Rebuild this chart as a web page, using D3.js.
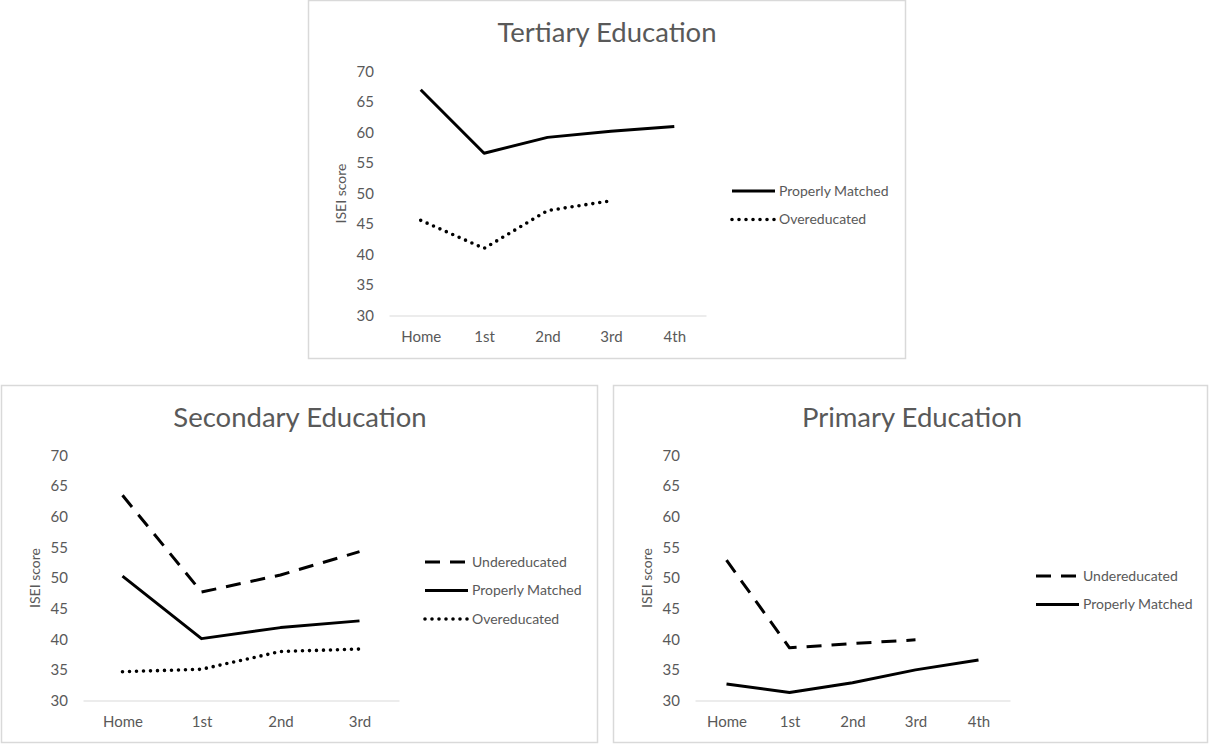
<!DOCTYPE html>
<html>
<head>
<meta charset="utf-8">
<script src="https://cdn.jsdelivr.net/npm/d3@7"></script>
<style>
  body { margin: 0; background: #fff; }
  svg { display: block; font-family: Lato, "Open Sans", sans-serif; }
  .tick text { fill: #595959; font-size: 15px; font-family: Lato, "Open Sans", sans-serif; }
</style>
</head>
<body>
<div id="chart"></div>
<script>
// values
var yTicks = [30, 35, 40, 45, 50, 55, 60, 65, 70];

var tertiaryCats = ["Home", "1st", "2nd", "3rd", "4th"];
var tertiaryProper = [67.0, 56.6, 59.2, 60.2, 61.0];
var tertiaryOver = [45.6, 41.0, 47.2, 48.8, null];

var secondaryCats = ["Home", "1st", "2nd", "3rd"];
var secondaryUnder = [63.5, 47.7, 50.5, 54.3];
var secondaryProper = [50.3, 40.1, 41.9, 43.0];
var secondaryOver = [34.7, 35.1, 38.0, 38.4];

var primaryCats = ["Home", "1st", "2nd", "3rd", "4th"];
var primaryUnder = [52.9, 38.6, 39.3, 39.9, null];
var primaryProper = [32.7, 31.3, 32.9, 35.0, 36.6];

var styles = {
  "Undereducated": { dash: "15,10", cap: "butt", w: 3 },
  "Properly Matched": { dash: null, cap: "butt", w: 3 },
  "Overeducated": { dash: "0,7", cap: "round", w: 3.6 }
};

var svg = d3.select("#chart").append("svg")
  .attr("width", 1212)
  .attr("height", 744);

drawPanel({
  frame: [308.5, 0.5, 597, 358],
  title: "Tertiary Education", titleX: 607, titleY: 42,
  plot: { x0: 389, x1: 706, y0: 71.5, y1: 315.5 },
  cats: tertiaryCats,
  series: [
    { name: "Properly Matched", values: tertiaryProper },
    { name: "Overeducated", values: tertiaryOver }
  ],
  legend: { x: 732, y: 191 }
});

drawPanel({
  frame: [1.5, 385.5, 596, 357],
  title: "Secondary Education", titleX: 300, titleY: 427,
  plot: { x0: 83, x1: 399, y0: 455.5, y1: 700.5 },
  cats: secondaryCats,
  series: [
    { name: "Undereducated", values: secondaryUnder },
    { name: "Properly Matched", values: secondaryProper },
    { name: "Overeducated", values: secondaryOver }
  ],
  legend: { x: 425, y: 562 }
});

drawPanel({
  frame: [613.5, 385.5, 594, 357],
  title: "Primary Education", titleX: 912, titleY: 427,
  plot: { x0: 695, x1: 1010, y0: 455.5, y1: 700.5 },
  cats: primaryCats,
  series: [
    { name: "Undereducated", values: primaryUnder },
    { name: "Properly Matched", values: primaryProper }
  ],
  legend: { x: 1036, y: 576 }
});

function drawPanel(o) {
  var g = svg.append("g");

  g.append("rect")
    .attr("x", o.frame[0]).attr("y", o.frame[1])
    .attr("width", o.frame[2]).attr("height", o.frame[3])
    .attr("fill", "#fff")
    .attr("stroke", "#d9d9d9")
    .attr("stroke-width", 1.5);

  g.append("text")
    .attr("x", o.titleX).attr("y", o.titleY)
    .attr("text-anchor", "middle")
    .attr("fill", "#595959")
    .attr("font-size", "27.5px")
    .text(o.title);

  var x = d3.scalePoint()
    .domain(o.cats)
    .range([o.plot.x0, o.plot.x1])
    .padding(0.5);

  var y = d3.scaleLinear()
    .domain([30, 70])
    .range([o.plot.y1, o.plot.y0]);

  // x axis: light baseline, labels below
  var xAxis = g.append("g")
    .attr("transform", "translate(0," + o.plot.y1 + ")")
    .call(d3.axisBottom(x).tickSize(0).tickPadding(16));
  xAxis.select(".domain").attr("stroke", "#d9d9d9").attr("stroke-width", 1);

  var yAxis = g.append("g")
    .attr("transform", "translate(" + (o.plot.x0 - 15) + ",0)")
    .call(d3.axisLeft(y).tickValues(yTicks).tickSize(0).tickPadding(0));
  yAxis.select(".domain").remove();

  g.append("text")
    .attr("transform", "translate(" + (o.plot.x0 - 48) + "," + ((o.plot.y0 + o.plot.y1) / 2) + ") rotate(-90)")
    .attr("text-anchor", "middle")
    .attr("dy", "0.35em")
    .attr("fill", "#595959")
    .attr("font-size", "14px")
    .text("ISEI score");

  var line = d3.line()
    .defined(function (d) { return d.v != null; })
    .x(function (d) { return x(d.c); })
    .y(function (d) { return y(d.v); });

  o.series.forEach(function (s, i) {
    var st = styles[s.name];
    var pts = s.values.map(function (v, j) { return { c: o.cats[j], v: v }; });

    g.append("path")
      .datum(pts)
      .attr("d", line)
      .attr("fill", "none")
      .attr("stroke", "#000")
      .attr("stroke-width", st.w)
      .attr("stroke-linejoin", "round")
      .attr("stroke-linecap", st.cap)
      .attr("stroke-dasharray", st.dash);

    // legend entry
    var ly = o.legend.y + i * 28.5;
    g.append("line")
      .attr("x1", o.legend.x).attr("x2", o.legend.x + 43)
      .attr("y1", ly).attr("y2", ly)
      .attr("stroke", "#000")
      .attr("stroke-width", st.w)
      .attr("stroke-linecap", st.cap)
      .attr("stroke-dasharray", st.name == "Undereducated" ? "17,11" : st.dash);
    g.append("text")
      .attr("x", o.legend.x + 47).attr("y", ly)
      .attr("dy", "0.35em")
      .attr("fill", "#595959")
      .attr("font-size", "14px")
      .text(s.name);
  });
}
</script>
</body>
</html>
